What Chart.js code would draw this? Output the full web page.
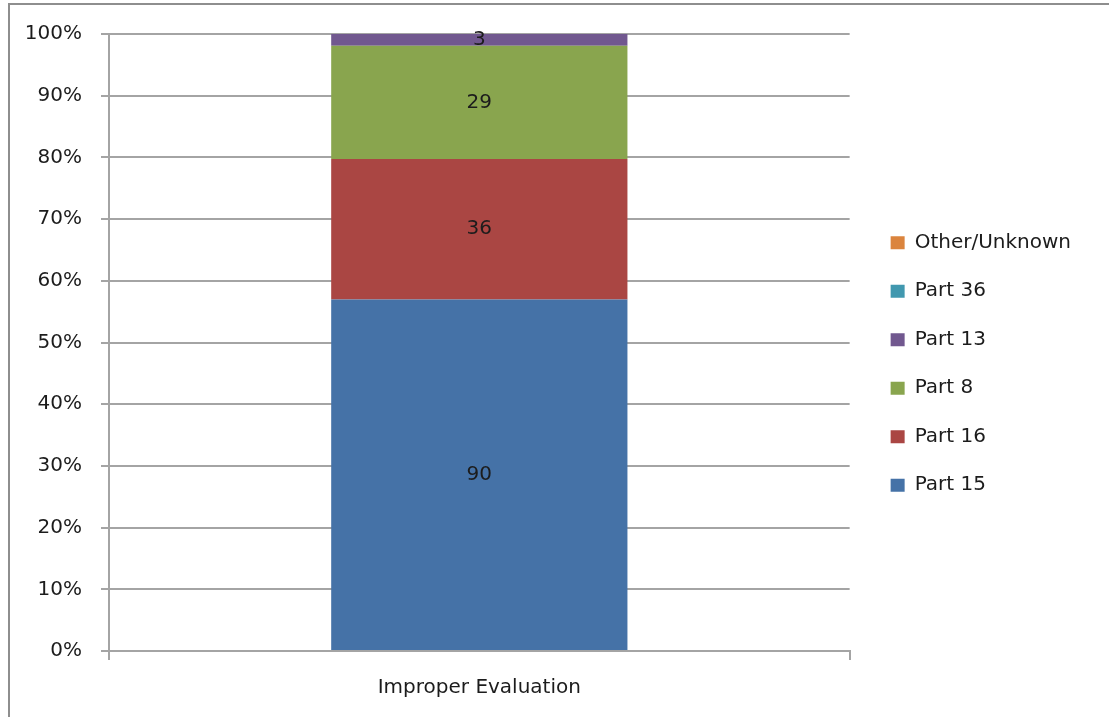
<!DOCTYPE html>
<html>
<head>
<meta charset="utf-8">
<script src="https://cdn.jsdelivr.net/npm/chart.js"></script>
<style>
  body { margin: 0; background: #fff; }
  #wrap { position: relative; width: 1109px; height: 717px; }
  #frame {
    position: absolute; left: 8px; top: 3px; right: -4px; bottom: -4px;
    border-top: 2px solid #8e8e8e; border-left: 2px solid #8e8e8e;
    pointer-events: none;
  }
</style>
</head>
<body>
<div id="wrap">
  <canvas id="chart" width="1109" height="717"></canvas>
  <div id="frame"></div>
</div>
<script>
  // counts per part, stacked bottom to top
  var categories = ['Improper Evaluation'];
  var parts = ['Part 15', 'Part 16', 'Part 8', 'Part 13', 'Part 36', 'Other/Unknown'];
  var counts = [[90], [36], [29], [3], [0], [0]];
  var colors = ['#4572A7', '#AA4643', '#89A54E', '#71588F', '#4198AF', '#DB843D'];
  var yTicks = [0, 10, 20, 30, 40, 50, 60, 70, 80, 90, 100];

  var totals = categories.map(function(c, i) {
    return counts.reduce(function(s, row) { return s + row[i]; }, 0);
  });

  var datasets = parts.map(function(p, k) {
    return {
      label: p,
      counts: counts[k],
      data: counts[k].map(function(v, i) { return v / totals[i] * 100; }),
      backgroundColor: colors[k],
      borderWidth: 0,
      barPercentage: 0.4,
      categoryPercentage: 1.0
    };
  });

  var font = { family: 'DejaVu Sans', size: 20 };
  var textColor = '#1c1c1c';
  var lineColor = '#a4a4a4';

  // write the raw count in the middle of each segment
  var countLabels = {
    id: 'countLabels',
    afterDatasetsDraw: function(chart) {
      var ctx = chart.ctx;
      ctx.save();
      ctx.font = font.size + 'px "' + font.family + '"';
      ctx.fillStyle = textColor;
      ctx.textAlign = 'center';
      ctx.textBaseline = 'middle';
      chart.data.datasets.forEach(function(ds, k) {
        chart.getDatasetMeta(k).data.forEach(function(bar, i) {
          var n = ds.counts[i];
          if (!n) return;
          ctx.fillText(String(n), bar.x, (bar.y + bar.base) / 2);
        });
      });
      ctx.restore();
    }
  };

  // blank strips used only as spacers around the plot
  function spacer(position, size) {
    return {
      position: position,
      display: true,
      grid: { display: false },
      border: { display: false },
      ticks: { display: false },
      afterFit: function(scale) {
        if (position === 'top' || position === 'bottom') scale.height = size;
        else scale.width = size;
      }
    };
  }

  new Chart(document.getElementById('chart'), {
    type: 'bar',
    data: { labels: categories, datasets: datasets },
    plugins: [countLabels],
    options: {
      responsive: false,
      animation: false,
      layout: { padding: { left: 9, top: 11, right: 28, bottom: 0 } },
      plugins: {
        legend: {
          position: 'right',
          reverse: true,
          maxWidth: 400,
          labels: {
            boxWidth: 14, boxHeight: 13, padding: 28.5,
            color: textColor, font: font
          }
        },
        tooltip: { enabled: false }
      },
      scales: {
        x: {
          stacked: true,
          afterFit: function(scale) { scale.height = 66; },
          grid: { drawOnChartArea: false, color: lineColor, lineWidth: 2, tickLength: 9 },
          border: { color: lineColor, width: 2 },
          ticks: { color: textColor, font: font, padding: 16 }
        },
        y: {
          stacked: true,
          min: 0, max: 100,
          afterFit: function(scale) { scale.width = 100; },
          afterBuildTicks: function(scale) {
            scale.ticks = yTicks.map(function(v) { return { value: v }; });
          },
          grid: { color: lineColor, lineWidth: 2, tickLength: 8 },
          border: { color: lineColor, width: 2 },
          ticks: {
            color: textColor, font: font, padding: 19,
            callback: function(v) { return v + '%'; }
          }
        },
        topGap: spacer('top', 23),
        rightGap: spacer('right', 12.5)
      }
    }
  });
</script>
</body>
</html>
